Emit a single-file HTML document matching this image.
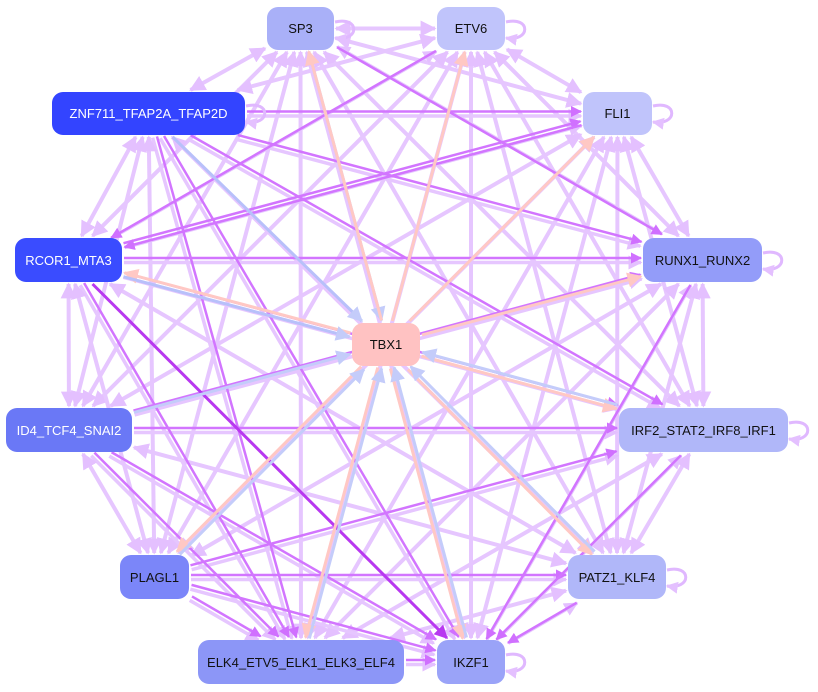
<!DOCTYPE html>
<html><head><meta charset="utf-8">
<style>
html,body{margin:0;padding:0;background:#fff;}
svg{display:block;}
text{font-family:"Liberation Sans",sans-serif;font-size:13px;}
</style></head>
<body>
<svg id="g" width="818" height="692" viewBox="0 0 818 692" xmlns="http://www.w3.org/2000/svg">
<defs>
<marker id="aL" viewBox="0 0 10 10" refX="9" refY="5" markerWidth="4" markerHeight="4" orient="auto-start-reverse" markerUnits="strokeWidth"><path d="M0,0L10,5L0,10z" fill="#e4c0ff"/></marker>
<marker id="aD" viewBox="0 0 10 10" refX="9" refY="5" markerWidth="4.5" markerHeight="4.5" orient="auto-start-reverse" markerUnits="strokeWidth"><path d="M0,0L10,5L0,10z" fill="#d070ff"/></marker>
<marker id="aV" viewBox="0 0 10 10" refX="9" refY="5" markerWidth="4.5" markerHeight="4.5" orient="auto-start-reverse" markerUnits="strokeWidth"><path d="M0,0L10,5L0,10z" fill="#b838f0"/></marker>
<marker id="aP" viewBox="0 0 10 10" refX="9" refY="5" markerWidth="5" markerHeight="5" orient="auto-start-reverse" markerUnits="strokeWidth"><path d="M0,0L10,5L0,10z" fill="#ffc8c4"/></marker>
<marker id="aB" viewBox="0 0 10 10" refX="9" refY="5" markerWidth="5" markerHeight="5" orient="auto-start-reverse" markerUnits="strokeWidth"><path d="M0,0L10,5L0,10z" fill="#c4ccfa"/></marker>
</defs>
<g id="edges"></g>
<g id="loops" fill="none" stroke="#e0b8ff" stroke-width="3">
<path d="M335,22 C360,16 360,42 335,38" marker-end="url(#aL)"/>
<path d="M506,22 C531,16 531,42 506,38" marker-end="url(#aL)"/>
<path d="M246,106 C271,100 271,126 246,122" marker-end="url(#aL)"/>
<path d="M653,106 C678,100 678,126 653,122" marker-end="url(#aL)"/>
<path d="M763,253 C788,247 788,273 763,269" marker-end="url(#aL)"/>
<path d="M789,423 C814,417 814,443 789,439" marker-end="url(#aL)"/>
<path d="M667,570 C692,564 692,590 667,586" marker-end="url(#aL)"/>
<path d="M506,655 C531,649 531,675 506,671" marker-end="url(#aL)"/>
</g>
<g id="nodes">
<rect x="267" y="7" width="67" height="43" rx="11" fill="#a9b0f8"/>
<text x="300.5" y="33" text-anchor="middle" fill="#111">SP3</text>
<rect x="437" y="7" width="68" height="43" rx="11" fill="#c0c4fb"/>
<text x="471" y="33" text-anchor="middle" fill="#111">ETV6</text>
<rect x="52" y="92" width="193" height="43" rx="11" fill="#3344ff"/>
<text x="148.5" y="118" text-anchor="middle" fill="#fff">ZNF711_TFAP2A_TFAP2D</text>
<rect x="583" y="92" width="69" height="43" rx="11" fill="#c0c4fb"/>
<text x="617.5" y="118" text-anchor="middle" fill="#111">FLI1</text>
<rect x="15" y="238" width="107" height="44" rx="11" fill="#3a4cff"/>
<text x="68.5" y="265" text-anchor="middle" fill="#fff">RCOR1_MTA3</text>
<rect x="643" y="238" width="119" height="44" rx="11" fill="#939cf9"/>
<text x="702.5" y="265" text-anchor="middle" fill="#111">RUNX1_RUNX2</text>
<rect x="352" y="323" width="68" height="43" rx="11" fill="#ffc2c2"/>
<text x="386" y="349" text-anchor="middle" fill="#111">TBX1</text>
<rect x="6" y="408" width="126" height="44" rx="11" fill="#6a78f6"/>
<text x="69" y="435" text-anchor="middle" fill="#fff">ID4_TCF4_SNAI2</text>
<rect x="619" y="408" width="169" height="44" rx="11" fill="#b0b7f9"/>
<text x="703.5" y="435" text-anchor="middle" fill="#111">IRF2_STAT2_IRF8_IRF1</text>
<rect x="120" y="555" width="69" height="44" rx="11" fill="#7b86f9"/>
<text x="154.5" y="582" text-anchor="middle" fill="#111">PLAGL1</text>
<rect x="568" y="555" width="98" height="44" rx="11" fill="#b0b7f9"/>
<text x="617" y="582" text-anchor="middle" fill="#111">PATZ1_KLF4</text>
<rect x="198" y="640" width="206" height="44" rx="11" fill="#8c96f7"/>
<text x="301" y="667" text-anchor="middle" fill="#111">ELK4_ETV5_ELK1_ELK3_ELF4</text>
<rect x="437" y="640" width="68" height="44" rx="11" fill="#9aa3f8"/>
<text x="471" y="667" text-anchor="middle" fill="#111">IKZF1</text>
</g>
</svg>
<script>
var N={
SP3:[267,7,67,43],ETV6:[437,7,68,43],ZNF:[52,92,193,43],FLI1:[583,92,69,43],
RCOR1:[15,238,107,44],RUNX1:[643,238,119,44],TBX1:[352,323,68,43],ID4:[6,408,126,44],
IRF2:[619,408,169,44],PLAGL1:[120,555,69,44],PATZ1:[568,555,98,44],ELK4:[198,640,206,44],IKZF1:[437,640,68,44]};
function c(n){var r=N[n];return [r[0]+r[2]/2,r[1]+r[3]/2];}
function clip(n,dx,dy){var r=N[n];var hw=r[2]/2+2,hh=r[3]/2+2;return Math.min(dx?hw/Math.abs(dx):1e9,dy?hh/Math.abs(dy):1e9);}
var G=document.getElementById('edges');
function edge(a,b,col,w,mk,both,off){
 var A=c(a),B=c(b);off=off||0;
 var dx=B[0]-A[0],dy=B[1]-A[1],L=Math.hypot(dx,dy);
 var px=-dy/L*off,py=dx/L*off;
 var ta=clip(a,dx,dy),tb=clip(b,dx,dy);
 var l=document.createElementNS('http://www.w3.org/2000/svg','line');
 l.setAttribute('x1',A[0]+dx*ta+px);l.setAttribute('y1',A[1]+dy*ta+py);
 l.setAttribute('x2',B[0]-dx*tb+px);l.setAttribute('y2',B[1]-dy*tb+py);
 l.setAttribute('stroke',col);l.setAttribute('stroke-width',w);
 l.setAttribute('marker-end','url(#'+mk+')');
 if(both)l.setAttribute('marker-start','url(#'+mk+')');
 G.appendChild(l);
}
var outer=['SP3','ETV6','FLI1','RUNX1','IRF2','PATZ1','IKZF1','ELK4','PLAGL1','ID4','RCOR1','ZNF'];
var dark=[['RCOR1','RUNX1'],['ZNF','RUNX1'],['ZNF','FLI1'],['RCOR1','IRF2'],['ID4','IRF2'],['PLAGL1','IKZF1'],['ID4','IKZF1'],['PLAGL1','PATZ1'],['ZNF','IKZF1'],['RCOR1','FLI1'],['ID4','RUNX1'],['IRF2','IKZF1'],['RUNX1','IKZF1'],['FLI1','RCOR1'],['ID4','ELK4'],['ZNF','ELK4'],['RCOR1','ELK4'],['PLAGL1','ELK4'],['PATZ1','IKZF1'],['ETV6','RCOR1'],['SP3','RUNX1'],['ZNF','IRF2'],['PLAGL1','IRF2'],['ELK4','IKZF1']];
var dk={};dark.forEach(function(p){dk[p[0]+'-'+p[1]]=1;dk[p[1]+'-'+p[0]]=1;});
for(var i=0;i<outer.length;i++)for(var j=i+1;j<outer.length;j++){
 var a=outer[i],b=outer[j];
 if(a=='RCOR1'&&b=='IKZF1'||a=='IKZF1'&&b=='RCOR1')continue;
 if(dk[a+'-'+b])edge(b,a,'#e6c6ff',3.5,'aL',false,2.5);
 else edge(a,b,'#e6c6ff',4,'aL',true);
}
dark.forEach(function(p){edge(p[0],p[1],'#d275ff',2.5,'aD',false,-2);});
edge('RCOR1','IKZF1','#b838f0',3,'aV',false);
// TBX1 edges
edge('SP3','TBX1','#c4ccfa',3,'aB',false,-2);
edge('TBX1','SP3','#ffc8c4',3,'aP',false,2);
edge('TBX1','ETV6','#ffc8c4',3,'aP');
edge('TBX1','FLI1','#ffc8c4',3,'aP');
edge('TBX1','RUNX1','#ffc8c4',3,'aP');
edge('TBX1','IRF2','#ffc8c4',3,'aP',false,2);
edge('IRF2','TBX1','#c4ccfa',3,'aB',false,2);
edge('ZNF','TBX1','#b8c0fa',3,'aB');
edge('TBX1','RCOR1','#ffc8c4',3,'aP',false,2);
edge('RCOR1','TBX1','#b8c0fa',3,'aB',false,2);
edge('ID4','TBX1','#c4ccfa',3,'aB');
edge('TBX1','PLAGL1','#ffc8c4',3,'aP',false,2);
edge('PLAGL1','TBX1','#c4ccfa',3,'aB',false,2);
edge('TBX1','ELK4','#ffc8c4',3,'aP',false,2);
edge('ELK4','TBX1','#c4ccfa',3,'aB',false,2);
edge('TBX1','IKZF1','#ffc8c4',3,'aP',false,2);
edge('IKZF1','TBX1','#c4ccfa',3,'aB',false,2);
edge('TBX1','PATZ1','#ffc8c4',3,'aP',false,2);
edge('PATZ1','TBX1','#c4ccfa',3,'aB',false,2);
</script>
</body></html>
